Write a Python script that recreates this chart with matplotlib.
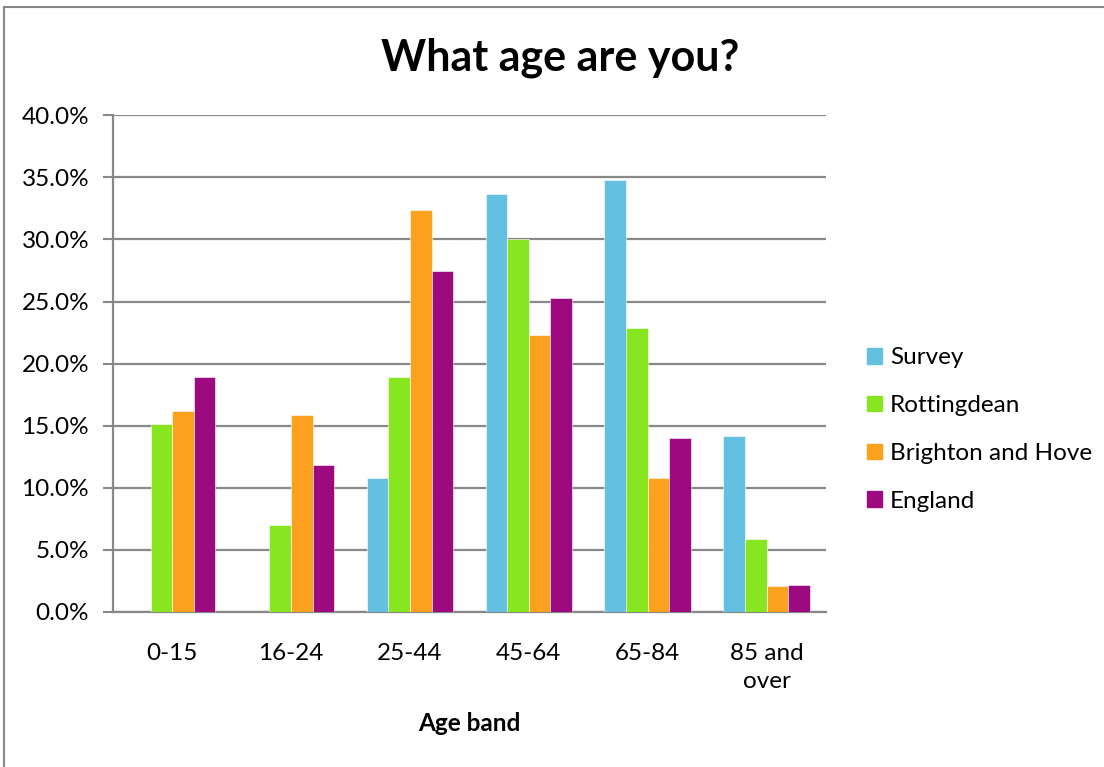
import numpy as np
import matplotlib.pyplot as plt
from matplotlib.lines import Line2D

age_bands = ["0-15", "16-24", "25-44", "45-64", "65-84", "85 and\nover"]
series_names = ["Survey", "Rottingdean", "Brighton and Hove", "England"]

survey = [0.0, 0.0, 10.8, 33.7, 34.8, 14.2]
rottingdean = [15.1, 7.0, 18.9, 30.0, 22.9, 5.9]
brighton_hove = [16.2, 15.9, 32.4, 22.3, 10.8, 2.1]
england = [18.9, 11.8, 27.5, 25.3, 14.0, 2.2]

colors = ["#63C0E0", "#88E620", "#FBA11D", "#9D097E"]

plt.rcParams['font.family'] = ['Lato', 'DejaVu Sans']

fig = plt.figure(figsize=(11.04, 7.67), dpi=100)
ax = fig.add_axes([0.1021, 0.2021, 0.6461, 0.6476])

x = np.arange(len(age_bands))
width = 0.182
all_series = [survey, rottingdean, brighton_hove, england]
for i, (name, vals) in enumerate(zip(series_names, all_series)):
    ax.bar(x + (i - 1.5) * width, vals, width, color=colors[i], label=name,
           edgecolor="white", linewidth=0.4, zorder=3)

ax.set_xlim(-0.5, len(age_bands) - 0.5)
ax.set_ylim(0, 40)
ax.set_yticks(np.arange(0, 41, 5))
ax.set_yticklabels([f"{v:.1f}%" for v in np.arange(0, 41, 5)], fontsize=17.5)
ax.set_xticks(x)
ax.set_xticklabels(age_bands, fontsize=17.5, linespacing=1.45)
ax.tick_params(axis='x', length=0, pad=22)
ax.tick_params(axis='y', length=7, width=1.5, color="#888888", pad=10)

ax.grid(axis='y', color="#888888", linewidth=1.6, zorder=0)
for s in ["top", "right"]:
    ax.spines[s].set_visible(False)
for s in ["left", "bottom"]:
    ax.spines[s].set_color("#888888")
    ax.spines[s].set_linewidth(1.6)

ax.set_xlabel("Age band", fontsize=17.5, fontweight='bold')
ax.xaxis.set_label_coords(0.5, -0.2255)
ax.xaxis.label.set_va('center')

fig.text(0.507, 0.925, "What age are you?", ha='center', va='center',
         fontsize=31, fontweight='bold')

handles = [plt.Rectangle((0, 0), 1, 1, color=c) for c in colors]
fig.legend(handles, series_names, loc='center left', bbox_to_anchor=(0.7853, 0.440),
           frameon=False, fontsize=17.5, borderpad=0, borderaxespad=0,
           handlelength=0.6, handleheight=0.6, handletextpad=0.35, labelspacing=1.1)

# outer chart border (top and left visible)
fig.add_artist(Line2D([4 / 1104, 1.0], [1 - 7 / 767, 1 - 7 / 767], color="#888888", linewidth=1.5))
fig.add_artist(Line2D([4 / 1104, 4 / 1104], [0.0, 1 - 7 / 767], color="#888888", linewidth=1.5))

fig.savefig("out.png", dpi=100)
